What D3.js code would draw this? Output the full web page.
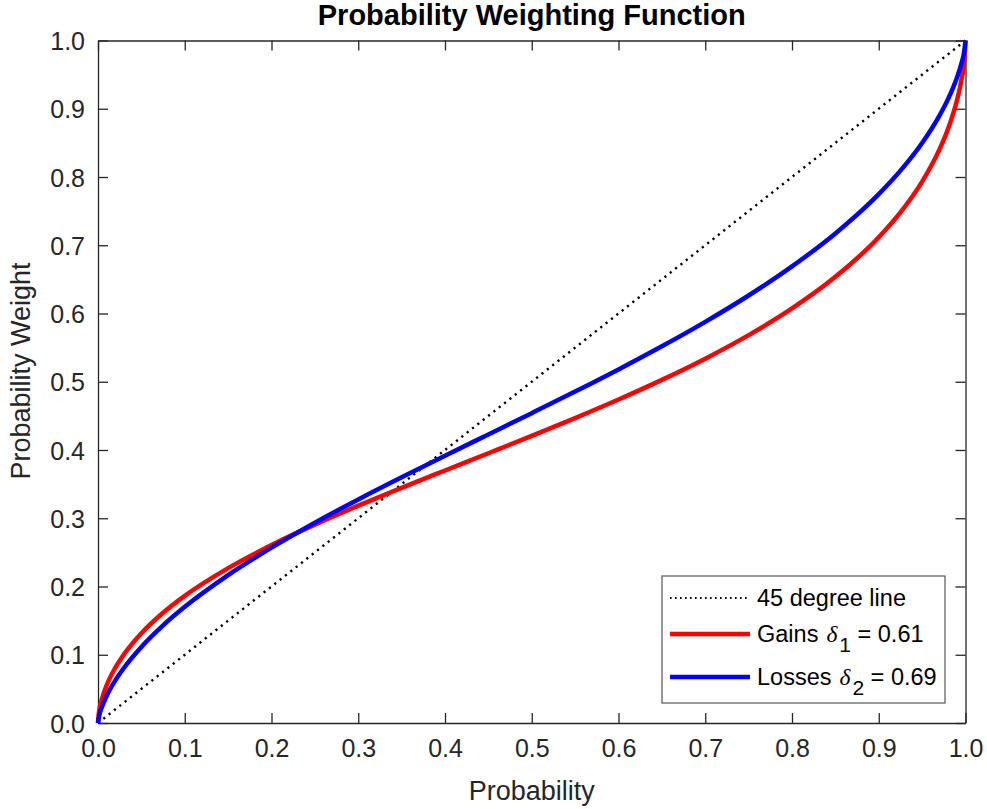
<!DOCTYPE html>
<html>
<head>
<meta charset="utf-8">
<script src="https://cdn.jsdelivr.net/npm/d3@7"></script>
<style>
    body { margin: 0; background: #fff; }
    text { font-family: "Liberation Sans", Arial, sans-serif; }
</style>
</head>
<body>
<div id="chart"></div>
<script>
// values
let probability = [0, 0.001, 0.005, 0.01, 0.02, 0.03, 0.05, 0.075, 0.1, 0.15, 0.2, 0.25, 0.3, 0.35,
    0.4, 0.45, 0.5, 0.55, 0.6, 0.65, 0.7, 0.75, 0.8, 0.85, 0.9, 0.925, 0.95, 0.97, 0.98, 0.99, 0.995, 0.999, 1];
let gainsWeight = [0, 0.0145, 0.0372, 0.0553, 0.0811, 0.1008, 0.1316, 0.1616, 0.1863, 0.2269, 0.2608, 0.2907,
    0.3184, 0.3446, 0.3700, 0.3952, 0.4206, 0.4467, 0.4739, 0.5027, 0.5338, 0.5683, 0.6074, 0.6537, 0.7117,
    0.7481, 0.7932, 0.8404, 0.8710, 0.9116, 0.9401, 0.9766, 1];
let lossesWeight = [0, 0.0084, 0.0250, 0.0397, 0.0624, 0.0809, 0.1114, 0.1430, 0.1702, 0.2167, 0.2570, 0.2935,
    0.3276, 0.3601, 0.3916, 0.4228, 0.4540, 0.4856, 0.5181, 0.5520, 0.5878, 0.6264, 0.6690, 0.7173, 0.7749,
    0.8093, 0.8499, 0.8900, 0.9145, 0.9451, 0.9651, 0.9881, 1];
let diagonal = [0, 1];
let xTicks = [0, 0.1, 0.2, 0.3, 0.4, 0.5, 0.6, 0.7, 0.8, 0.9, 1.0];
let yTicks = [0, 0.1, 0.2, 0.3, 0.4, 0.5, 0.6, 0.7, 0.8, 0.9, 1.0];

let width = 987, height = 809;
let margin = {top: 40.5, right: 21.5, bottom: 86, left: 98};
let axisColor = "#262626";

let svg = d3.select("#chart").append("svg")
    .attr("width", width)
    .attr("height", height);

let x = d3.scaleLinear().domain([0, 1]).range([margin.left, width - margin.right]);
let y = d3.scaleLinear().domain([0, 1]).range([height - margin.bottom, margin.top]);

// axes (ticks inside, box on)
let tickLen = 10;
let bottomAxis = svg.append("g")
    .attr("transform", `translate(0, ${y(0)})`)
    .call(d3.axisBottom(x).tickValues(xTicks).tickFormat(d3.format(".1f")).tickSizeInner(-tickLen).tickSizeOuter(0).tickPadding(16));
let leftAxis = svg.append("g")
    .attr("transform", `translate(${x(0)}, 0)`)
    .call(d3.axisLeft(y).tickValues(yTicks).tickFormat(d3.format(".1f")).tickSizeInner(-tickLen).tickSizeOuter(0).tickPadding(13));
let topAxis = svg.append("g")
    .attr("transform", `translate(0, ${y(1)})`)
    .call(d3.axisTop(x).tickValues(xTicks).tickFormat("").tickSizeInner(-tickLen).tickSizeOuter(0));
let rightAxis = svg.append("g")
    .attr("transform", `translate(${x(1)}, 0)`)
    .call(d3.axisRight(y).tickValues(yTicks).tickFormat("").tickSizeInner(-tickLen).tickSizeOuter(0));

[bottomAxis, leftAxis, topAxis, rightAxis].forEach(function(g) {
    g.select(".domain").attr("stroke", axisColor).attr("stroke-width", 1.3);
    g.selectAll(".tick line").attr("stroke", axisColor).attr("stroke-width", 1.3);
    g.selectAll(".tick text")
        .attr("fill", axisColor)
        .style("font-size", "25px")
        .style("font-family", "'Liberation Sans', Arial, sans-serif");
});
leftAxis.selectAll(".tick text").attr("dy", "0.36em");

// lines
let line = d3.line()
    .x(d => x(d[0]))
    .y(d => y(d[1]))
    .curve(d3.curveMonotoneX);

svg.append("path")
    .datum(diagonal.map(d => [d, d]))
    .attr("d", line)
    .attr("fill", "none")
    .attr("stroke", "#000")
    .attr("stroke-width", 2.4)
    .attr("stroke-dasharray", "2.2 4.6");

svg.append("path")
    .datum(probability.map((p, i) => [p, gainsWeight[i]]))
    .attr("d", line)
    .attr("fill", "none")
    .attr("stroke", "#ff0000")
    .attr("stroke-width", 4.5)
    .attr("stroke-linejoin", "round");

svg.append("path")
    .datum(probability.map((p, i) => [p, lossesWeight[i]]))
    .attr("d", line)
    .attr("fill", "none")
    .attr("stroke", "#0000ff")
    .attr("stroke-width", 4.5)
    .attr("stroke-linejoin", "round");

// title and axis labels
svg.append("text")
    .attr("x", (x(0) + x(1)) / 2)
    .attr("y", 25)
    .attr("text-anchor", "middle")
    .style("font-size", "29px")
    .style("font-weight", "bold")
    .attr("fill", "#000")
    .text("Probability Weighting Function");

svg.append("text")
    .attr("x", (x(0) + x(1)) / 2)
    .attr("y", 800)
    .attr("text-anchor", "middle")
    .style("font-size", "27px")
    .attr("fill", axisColor)
    .text("Probability");

svg.append("text")
    .attr("transform", "translate(30, 371) rotate(-90)")
    .attr("text-anchor", "middle")
    .style("font-size", "27px")
    .attr("fill", axisColor)
    .text("Probability Weight");

// legend
let legend = svg.append("g").attr("transform", "translate(662, 576)");
legend.append("rect")
    .attr("width", 283)
    .attr("height", 127)
    .attr("fill", "#fff")
    .attr("stroke", "#555")
    .attr("stroke-width", 1.2);

let legendItems = [
    {name: "45 degree line", color: "#000", dash: "1.6 3.4", w: 1.8, y: 22},
    {name: "Gains", sym: "δ", sub: "1", val: " = 0.61", color: "#ff0000", w: 4.5, y: 58},
    {name: "Losses", sym: "δ", sub: "2", val: " = 0.69", color: "#0000ff", w: 4.5, y: 101}
];

legendItems.forEach(function(d) {
    legend.append("line")
        .attr("x1", 8).attr("x2", 88)
        .attr("y1", d.y).attr("y2", d.y)
        .attr("stroke", d.color)
        .attr("stroke-width", d.w)
        .attr("stroke-dasharray", d.dash || null);

    let t = legend.append("text")
        .attr("x", 95)
        .attr("y", d.y + 8)
        .style("font-size", "23.5px")
        .attr("fill", "#000");
    t.append("tspan").text(d.name);
    if (d.sym) {
        t.append("tspan")
            .style("font-family", "'Liberation Serif', 'Times New Roman', serif")
            .style("font-style", "italic")
            .attr("dx", 8)
            .text(d.sym);
        t.append("tspan")
            .attr("dy", 10)
            .attr("dx", 2)
            .style("font-size", "21px")
            .text(d.sub);
        t.append("tspan")
            .attr("dy", -10)
            .text(d.val);
    }
});
</script>
</body>
</html>
